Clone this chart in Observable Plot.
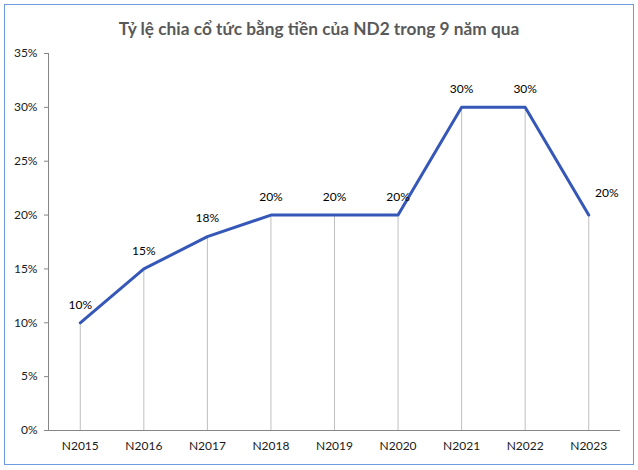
<!DOCTYPE html>
<html><head><meta charset="utf-8">
<script src="https://cdn.jsdelivr.net/npm/d3@7"></script>
<script src="https://cdn.jsdelivr.net/npm/@observablehq/plot@0.6"></script>
<style>
body{margin:0;background:#fff;font-family:Lato,sans-serif}
#wrap{position:relative;width:638px;height:470px}
#frame{position:absolute;left:4px;top:4px;width:628px;height:459px;border:1px solid #6F9BE0;}
#title{position:absolute;top:18px;left:0;width:638px;text-align:center;font:bold 17.3px Lato,sans-serif;color:#595959}
#chart{position:absolute;left:0;top:40px}
</style></head><body>
<div id="wrap"><div id="frame"></div><div id="title">Tỷ lệ chia cổ tức bằng tiền của ND2 trong 9 năm qua</div><div id="chart"></div></div>
<script>
const years = ["N2015","N2016","N2017","N2018","N2019","N2020","N2021","N2022","N2023"];
const rates = [10,15,18,20,20,20,30,30,20];
const yTicks = [0,5,10,15,20,25,30,35];
const data = years.map((year,i)=>({year, rate: rates[i]}));
const last = years.length-1;
const plot = Plot.plot({
  width:638,height:430,marginLeft:48,marginRight:18,marginTop:13,marginBottom:40,
  style:{fontFamily:"Lato, sans-serif", fontSize:"12px", color:"#1a1a1a", background:"transparent", overflow:"visible"},
  x:{type:"band", domain:years, padding:0, round:false},
  y:{domain:[0,35]},
  marks:[
    Plot.ruleX(data,{x:"year",y1:0,y2:"rate",stroke:"#BFBFBF",strokeWidth:1}),
    Plot.frame({anchor:"left", stroke:"#868686"}),
    Plot.ruleY([0],{stroke:"#868686"}),
    Plot.axisY({ticks:yTicks, tickFormat:d=>d+"%", tickSize:4, tickPadding:7, stroke:"#868686", label:null}),
    Plot.axisX({tickSize:0, tickPadding:11, label:null}),
    Plot.line(data,{x:"year",y:"rate",stroke:"#3558B8",strokeWidth:3}),
    Plot.text(data.slice(0,last),{x:"year",y:"rate",text:d=>d.rate+"%",dy:-18,fill:"#000"}),
    Plot.text(data.slice(last),{x:"year",y:"rate",text:d=>d.rate+"%",dx:18,dy:-22,fill:"#000"})
  ]
});
document.getElementById("chart").appendChild(plot);
</script>
</body></html>
